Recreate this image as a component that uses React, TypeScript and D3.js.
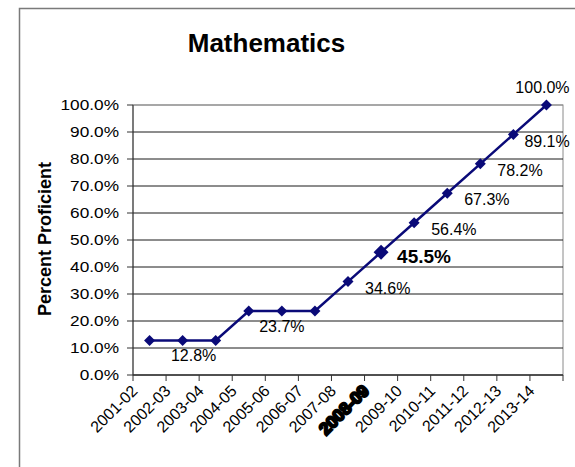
import React from "react";
import * as d3 from "d3";

const categories = ["2001-02","2002-03","2003-04","2004-05","2005-06","2006-07","2007-08","2008-09","2009-10","2010-11","2011-12","2012-13","2013-14"];
const values = [0.128,0.128,0.128,0.237,0.237,0.237,0.346,0.455,0.564,0.673,0.782,0.891,1.0];
const yTicks = [0,0.1,0.2,0.3,0.4,0.5,0.6,0.7,0.8,0.9,1.0];
const labeledIdx = [1,4,6,7,8,9,10,11,12];
const highlightIdx = 7;
const title = "Mathematics";
const yTitle = "Percent Proficient";

const W = 575, H = 467;
const plot = { left: 133, right: 563, top: 105, bottom: 375 };
const FONT = "'Liberation Sans', Arial, sans-serif";
const NAVY = "#0a0a78";

export default function App() {
  const x = d3.scaleBand<string>().domain(categories).range([plot.left, plot.right]).paddingInner(0).paddingOuter(0);
  const y = d3.scaleLinear().domain([0, 1]).range([plot.bottom, plot.top]);
  const cx = (i: number) => (x(categories[i]) as number) + x.bandwidth() / 2;
  const pct = d3.format(".1%");
  const line = d3.line<number>().x((_, i) => cx(i)).y((v) => y(v));
  const diamond = (r: number) => `M0,${-r}L${r},0L0,${r}L${-r},0Z`;

  const labelPlacement = (i: number) => {
    const px = cx(i), py = y(values[i]);
    if (i === categories.length - 1) return { x: px - 4, y: py - 12, anchor: "middle" };
    if (i < 6) return { x: px + (i === 1 ? 11 : 0), y: py + 21, anchor: "middle" };
    if (i === highlightIdx) return { x: px + 16, y: py + 11, anchor: "start" };
    if (i === 11) return { x: px + 11, y: py + 13, anchor: "start" };
    return { x: px + 17, y: py + 12, anchor: "start" };
  };

  const boundaries = d3.range(categories.length + 1).map((k) => plot.left + k * x.bandwidth());

  return (
    <svg width={W} height={H} style={{ position: "absolute", left: 0, top: 0, background: "#fff" }} fontFamily={FONT}>
      <rect x={0} y={0} width={W} height={H} fill="#fff" />
      <rect x={19.5} y={8.5} width={W + 10} height={H + 10} fill="none" stroke="#7a7a7a" strokeWidth={1.5} />
      <text x={266.5} y={51.5} textAnchor="middle" fontSize={26} fontWeight="bold" fill="#000">{title}</text>
      <text transform={`translate(51,239) rotate(-90)`} textAnchor="middle" fontSize={18} fontWeight="bold" fill="#000">{yTitle}</text>

      <rect x={plot.left} y={plot.top} width={plot.right - plot.left} height={plot.bottom - plot.top} fill="#fff" stroke="#8a8a8a" strokeWidth={1} />
      {yTicks.map((t) => (
        <g key={t}>
          <line x1={plot.left} x2={plot.right} y1={y(t)} y2={y(t)} stroke={t === 1 ? "#8a8a8a" : "#1a1a1a"} strokeWidth={1} />
          <line x1={plot.left - 6} x2={plot.left} y1={y(t)} y2={y(t)} stroke="#333" strokeWidth={1} />
          <text transform={`translate(${plot.left - 14},${y(t) + 5}) scale(1.15,1)`} textAnchor="end" fontSize={15} fill="#000">{pct(t)}</text>
        </g>
      ))}
      <line x1={plot.left} x2={plot.left} y1={plot.top} y2={plot.bottom} stroke="#333" strokeWidth={1} />
      <line x1={plot.left} x2={plot.right} y1={plot.bottom} y2={plot.bottom} stroke="#333" strokeWidth={1} />
      {boundaries.map((b, k) => (
        <line key={k} x1={b} x2={b} y1={plot.bottom} y2={plot.bottom + 6} stroke="#333" strokeWidth={1} />
      ))}
      {categories.map((c, i) => {
        const hl = i === highlightIdx;
        return (
          <text key={c} transform={`translate(${cx(i) - 11},${plot.bottom + 17}) rotate(-45)`} textAnchor="end"
            fontSize={hl ? 17 : 16} fontWeight={hl ? "bold" : "normal"} fill="#000"
            stroke={hl ? "#000" : "none"} strokeWidth={hl ? 2.2 : 0}>{c}</text>
        );
      })}

      <path d={line(values) || ""} fill="none" stroke={NAVY} strokeWidth={2.5} />
      {values.map((v, i) => (
        <path key={i} d={diamond(i === highlightIdx ? 7.5 : 5.5)} transform={`translate(${cx(i)},${y(v)})`} fill={NAVY} />
      ))}
      {labeledIdx.map((i) => {
        const p = labelPlacement(i);
        const hl = i === highlightIdx;
        return (
          <text key={i} x={p.x} y={p.y} textAnchor={p.anchor as any} fontSize={hl ? 19 : 16} fontWeight={hl ? "bold" : "normal"} fill="#000">{pct(values[i])}</text>
        );
      })}
    </svg>
  );
}
